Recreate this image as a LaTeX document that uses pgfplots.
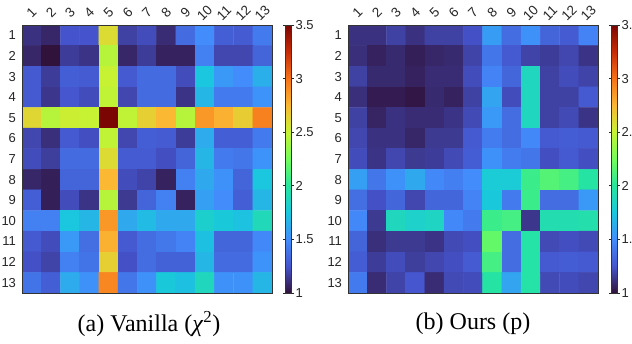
\documentclass[border=0pt]{standalone}
\usepackage{fontspec}
\setmainfont{Liberation Sans}
\newfontfamily\capfont{Liberation Serif}
\usepackage{pgfplots}
\pgfplotsset{compat=1.18}
\pgfplotsset{
  colormap={ref}{rgb=(0.19,0.07,0.23) rgb=(0.27,0.33,0.80) rgb=(0.26,0.55,0.99)
    rgb=(0.10,0.78,0.87) rgb=(0.15,0.90,0.62) rgb=(0.45,0.99,0.35) rgb=(0.78,0.95,0.20)
    rgb=(0.98,0.72,0.20) rgb=(0.97,0.45,0.10) rgb=(0.78,0.17,0.03) rgb=(0.48,0.02,0.01)},
  hm/.style={
    anchor=south west, scale only axis, width=250pt, height=268pt,
    xmin=0.5, xmax=13.5, ymin=0.5, ymax=13.5, y dir=reverse,
    enlargelimits=false, axis on top,
    xtick={1,...,13}, ytick={1,...,13},
    xticklabel pos=upper,
    major tick length=0pt,
    axis line style={draw=black!80, line width=0.8pt},
    /pgf/number format/assume math mode=true,
    ticklabel style={font=\fontsize{13}{13}\selectfont, color=black!85},
    xticklabel style={font=\fontsize{13.5}{13.5}\selectfont, yshift=12pt, rotate=45, anchor=center},
    yticklabel style={xshift=-2.5pt},
    colormap name=ref, point meta min=1, point meta max=3.5,
    colorbar,
    colorbar style={
      at={(parent axis.north east)}, anchor=north west, xshift=5pt,
      scale only axis, width=6pt, height=268pt,
      ytick={1,1.5,2,2.5,3,3.5},
      axis line style={draw=black!80, line width=0.6pt},
      major tick length=2.5pt, tick align=outside,
      ytick style={draw=black!85, line width=0.6pt},
      yticklabel pos=right,
      /pgf/number format/assume math mode=true,
      yticklabel style={font=\fontsize{13}{13}\selectfont, color=black!85, xshift=-2pt},
    },
  }
}
\begin{document}
\begin{tikzpicture}
\useasboundingbox (0,0) rectangle (632pt,343pt);
\begin{axis}[hm, at={(22pt,50pt)}]
\addplot[matrix plot*, mesh/cols=13, point meta=explicit] coordinates {
(1,1)[1.12] (2,1)[1.08] (3,1)[1.25] (4,1)[1.25] (5,1)[2.60] (6,1)[1.18] (7,1)[1.22] (8,1)[1.10] (9,1)[1.35] (10,1)[1.50] (11,1)[1.30] (12,1)[1.28] (13,1)[1.42]

(1,2)[1.08] (2,2)[1.00] (3,2)[1.16] (4,2)[1.13] (5,2)[2.45] (6,2)[1.08] (7,2)[1.16] (8,2)[1.06] (9,2)[1.06] (10,2)[1.45] (11,2)[1.20] (12,2)[1.20] (13,2)[1.32]

(1,3)[1.27] (2,3)[1.16] (3,3)[1.30] (4,3)[1.28] (5,3)[2.50] (6,3)[1.27] (7,3)[1.35] (8,3)[1.35] (9,3)[1.22] (10,3)[1.75] (11,3)[1.55] (12,3)[1.50] (13,3)[1.65]

(1,4)[1.27] (2,4)[1.14] (3,4)[1.26] (4,4)[1.22] (5,4)[2.48] (6,4)[1.20] (7,4)[1.35] (8,4)[1.35] (9,4)[1.13] (10,4)[1.68] (11,4)[1.42] (12,4)[1.42] (13,4)[1.53]

(1,5)[2.62] (2,5)[2.45] (3,5)[2.52] (4,5)[2.50] (5,5)[3.50] (6,5)[2.48] (7,5)[2.65] (8,5)[2.75] (9,5)[2.45] (10,5)[2.87] (11,5)[2.78] (12,5)[2.66] (13,5)[2.95]

(1,6)[1.20] (2,6)[1.11] (3,6)[1.27] (4,6)[1.23] (5,6)[2.48] (6,6)[1.20] (7,6)[1.30] (8,6)[1.28] (9,6)[1.16] (10,6)[1.63] (11,6)[1.30] (12,6)[1.30] (13,6)[1.42]

(1,7)[1.22] (2,7)[1.17] (3,7)[1.35] (4,7)[1.35] (5,7)[2.60] (6,7)[1.28] (7,7)[1.28] (8,7)[1.23] (9,7)[1.32] (10,7)[1.68] (11,7)[1.42] (12,7)[1.40] (13,7)[1.53]

(1,8)[1.08] (2,8)[1.05] (3,8)[1.32] (4,8)[1.32] (5,8)[2.75] (6,8)[1.22] (7,8)[1.19] (8,8)[1.06] (9,8)[1.45] (10,8)[1.62] (11,8)[1.52] (12,8)[1.32] (13,8)[1.75]

(1,9)[1.30] (2,9)[1.05] (3,9)[1.22] (4,9)[1.13] (5,9)[2.45] (6,9)[1.15] (7,9)[1.32] (8,9)[1.45] (9,9)[1.06] (10,9)[1.58] (11,9)[1.50] (12,9)[1.30] (13,9)[1.68]

(1,10)[1.45] (2,10)[1.45] (3,10)[1.75] (4,10)[1.68] (5,10)[2.87] (6,10)[1.62] (7,10)[1.70] (8,10)[1.62] (9,10)[1.62] (10,10)[1.82] (11,10)[1.77] (12,10)[1.73] (13,10)[1.90]

(1,11)[1.27] (2,11)[1.22] (3,11)[1.55] (4,11)[1.37] (5,11)[2.78] (6,11)[1.27] (7,11)[1.36] (8,11)[1.41] (9,11)[1.46] (10,11)[1.72] (11,11)[1.33] (12,11)[1.33] (13,11)[1.48]

(1,12)[1.24] (2,12)[1.19] (3,12)[1.45] (4,12)[1.39] (5,12)[2.65] (6,12)[1.24] (7,12)[1.36] (8,12)[1.31] (9,12)[1.31] (10,12)[1.68] (11,12)[1.35] (12,12)[1.35] (13,12)[1.53]

(1,13)[1.39] (2,13)[1.30] (3,13)[1.63] (4,13)[1.52] (5,13)[2.93] (6,13)[1.40] (7,13)[1.52] (8,13)[1.77] (9,13)[1.72] (10,13)[1.88] (11,13)[1.52] (12,13)[1.52] (13,13)[1.68]
};
\end{axis}
\begin{axis}[hm, at={(348pt,50pt)}]
\addplot[matrix plot*, mesh/cols=13, point meta=explicit] coordinates {
(1,1)[1.12] (2,1)[1.12] (3,1)[1.18] (4,1)[1.12] (5,1)[1.18] (6,1)[1.18] (7,1)[1.24] (8,1)[1.57] (9,1)[1.36] (10,1)[1.52] (11,1)[1.32] (12,1)[1.28] (13,1)[1.46]

(1,2)[1.11] (2,2)[1.06] (3,2)[1.09] (4,2)[1.05] (5,2)[1.08] (6,2)[1.09] (7,2)[1.19] (8,2)[1.40] (9,2)[1.27] (10,2)[1.19] (11,2)[1.16] (12,2)[1.20] (13,2)[1.13]

(1,3)[1.18] (2,3)[1.09] (3,3)[1.09] (4,3)[1.06] (5,3)[1.10] (6,3)[1.10] (7,3)[1.22] (8,3)[1.46] (9,3)[1.33] (10,3)[1.87] (11,3)[1.18] (12,3)[1.22] (13,3)[1.19]

(1,4)[1.11] (2,4)[1.04] (3,4)[1.04] (4,4)[1.02] (5,4)[1.09] (6,4)[1.06] (7,4)[1.18] (8,4)[1.60] (9,4)[1.22] (10,4)[1.87] (11,4)[1.18] (12,4)[1.18] (13,4)[1.27]

(1,5)[1.18] (2,5)[1.07] (3,5)[1.12] (4,5)[1.10] (5,5)[1.10] (6,5)[1.13] (7,5)[1.21] (8,5)[1.55] (9,5)[1.36] (10,5)[1.87] (11,5)[1.18] (12,5)[1.21] (13,5)[1.13]

(1,6)[1.20] (2,6)[1.12] (3,6)[1.12] (4,6)[1.08] (5,6)[1.15] (6,6)[1.15] (7,6)[1.27] (8,6)[1.43] (9,6)[1.36] (10,6)[1.48] (11,6)[1.27] (12,6)[1.29] (13,6)[1.27]

(1,7)[1.22] (2,7)[1.13] (3,7)[1.20] (4,7)[1.15] (5,7)[1.16] (6,7)[1.21] (7,7)[1.29] (8,7)[1.52] (9,7)[1.43] (10,7)[1.40] (11,7)[1.23] (12,7)[1.27] (13,7)[1.23]

(1,8)[1.58] (2,8)[1.40] (3,8)[1.52] (4,8)[1.62] (5,8)[1.48] (6,8)[1.44] (7,8)[1.50] (8,8)[1.78] (9,8)[1.78] (10,8)[2.07] (11,8)[2.15] (12,8)[2.10] (13,8)[1.98]

(1,9)[1.37] (2,9)[1.24] (3,9)[1.33] (4,9)[1.20] (5,9)[1.33] (6,9)[1.33] (7,9)[1.46] (8,9)[1.76] (9,9)[1.42] (10,9)[2.07] (11,9)[1.36] (12,9)[1.36] (13,9)[1.55]

(1,10)[1.48] (2,10)[1.15] (3,10)[1.88] (4,10)[1.83] (5,10)[1.86] (6,10)[1.48] (7,10)[1.42] (8,10)[2.07] (9,10)[2.10] (10,10)[1.14] (11,10)[1.93] (12,10)[1.93] (13,10)[1.95]

(1,11)[1.32] (2,11)[1.11] (3,11)[1.15] (4,11)[1.15] (5,11)[1.13] (6,11)[1.21] (7,11)[1.23] (8,11)[2.20] (9,11)[1.36] (10,11)[1.97] (11,11)[1.21] (12,11)[1.23] (13,11)[1.21]

(1,12)[1.29] (2,12)[1.16] (3,12)[1.22] (4,12)[1.17] (5,12)[1.20] (6,12)[1.23] (7,12)[1.28] (8,12)[2.10] (9,12)[1.36] (10,12)[1.97] (11,12)[1.27] (12,12)[1.29] (13,12)[1.27]

(1,13)[1.42] (2,13)[1.10] (3,13)[1.19] (4,13)[1.26] (5,13)[1.10] (6,13)[1.21] (7,13)[1.22] (8,13)[1.98] (9,13)[1.60] (10,13)[1.97] (11,13)[1.21] (12,13)[1.22] (13,13)[1.20]
};
\end{axis}
\node[font=\capfont\fontsize{24}{24}\selectfont] at (149pt,19pt) {(a) Vanilla (\textit{χ}\textsuperscript{2})};
\node[font=\capfont\fontsize{24}{24}\selectfont] at (473pt,19pt) {(b) Ours (p)};
\end{tikzpicture}
\end{document}
